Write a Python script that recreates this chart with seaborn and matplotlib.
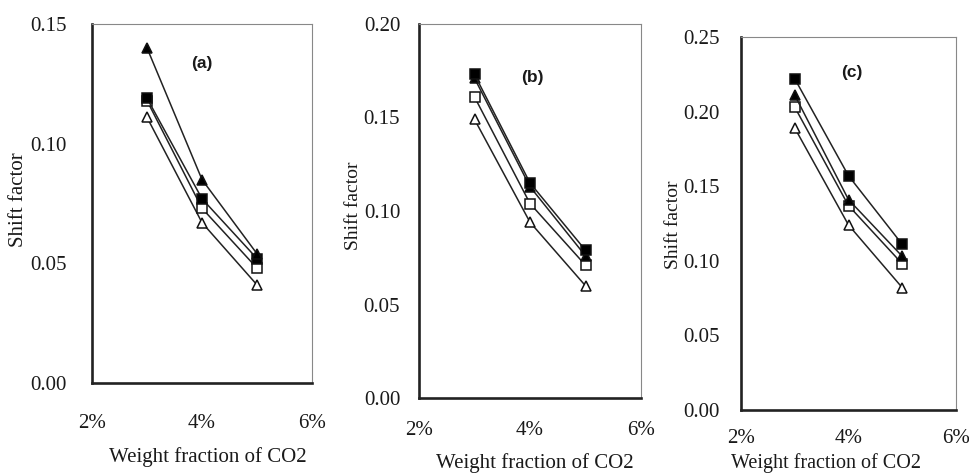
import matplotlib
matplotlib.use("Agg")
import matplotlib.pyplot as plt
import numpy as np
import pandas as pd
import seaborn as sns

# ── Data ──────────────────────────────────────────────────────────────────────
co2_frac = [0.03, 0.04, 0.05]

# panel (a)
a_filled_tri = [0.140, 0.085, 0.054]
a_filled_sq  = [0.119, 0.077, 0.052]
a_open_sq    = [0.118, 0.073, 0.048]
a_open_tri   = [0.111, 0.067, 0.041]

# panel (b)
b_filled_tri = [0.171, 0.113, 0.076]
b_filled_sq  = [0.173, 0.115, 0.079]
b_open_sq    = [0.161, 0.104, 0.071]
b_open_tri   = [0.149, 0.094, 0.060]

# panel (c)
c_filled_tri = [0.211, 0.141, 0.103]
c_filled_sq  = [0.222, 0.157, 0.111]
c_open_sq    = [0.203, 0.137, 0.098]
c_open_tri   = [0.189, 0.124, 0.082]

panel_tags = ["(a)", "(b)", "(c)"]
y_maxes    = [0.15, 0.20, 0.25]
x_ticks    = [0.02, 0.04, 0.06]
x_ticklabels = ["2%", "4%", "6%"]

# ── Style ─────────────────────────────────────────────────────────────────────
sns.set_style("white")
plt.rcParams["font.family"] = ["Liberation Serif", "DejaVu Serif"]

SERIES_STYLE = {
    "open_tri":   dict(marker="^", mfc="white"),
    "open_sq":    dict(marker="s", mfc="white"),
    "filled_tri": dict(marker="^", mfc="black"),
    "filled_sq":  dict(marker="s", mfc="black"),
}

panels = [
    {"open_tri": a_open_tri, "open_sq": a_open_sq, "filled_sq": a_filled_sq, "filled_tri": a_filled_tri},
    {"open_tri": b_open_tri, "open_sq": b_open_sq, "filled_tri": b_filled_tri, "filled_sq": b_filled_sq},
    {"open_tri": c_open_tri, "open_sq": c_open_sq, "filled_tri": c_filled_tri, "filled_sq": c_filled_sq},
]

# layout per panel, in pixels of a 969x474 canvas
W, H = 969, 474
boxes    = [(92, 24, 312, 383), (419, 24, 641, 398), (741, 37, 956, 410)]  # l, t, r, b
ylab_xy  = [(19, 200), (353, 206), (673, 225)]
xlab_xy  = [(208, 457), (535, 463), (826, 463)]
tag_pos  = [(0.50, 0.89), (0.51, 0.858), (0.516, 0.906)]
xpad     = [19, 13, 10]
ypad     = [15, 10, 12]
ylab_fs  = [15, 14, 14]
xlab_fs  = [15, 15, 14.5]

fig = plt.figure(figsize=(W / 100, H / 100), dpi=100)

for i, (series, box) in enumerate(zip(panels, boxes)):
    l, t, r, b = box
    ax = fig.add_axes([l / W, 1 - b / H, (r - l) / W, (b - t) / H])

    for name, vals in series.items():
        st = SERIES_STYLE[name]
        sns.lineplot(
            x=co2_frac, y=vals, ax=ax, color="#222222", linewidth=1.1,
            marker=st["marker"], markersize=6.5, markerfacecolor=st["mfc"],
            markeredgecolor="#111111", markeredgewidth=1.1,
        )

    yt = np.arange(0, y_maxes[i] + 1e-9, 0.05)
    ax.set_xlim(0.02, 0.06)
    ax.set_ylim(0, y_maxes[i])
    ax.set_xticks(x_ticks)
    ax.set_xticklabels(x_ticklabels)
    ax.set_yticks(yt)
    ax.set_yticklabels([f"{v:.2f}" for v in yt])
    ax.tick_params(axis="both", direction="inout", length=7, width=1.2,
                   labelsize=15, color="#222222", labelcolor="#1a1a1a")
    ax.tick_params(axis="x", pad=xpad[i])
    ax.tick_params(axis="y", pad=ypad[i])

    for side in ["left", "bottom"]:
        ax.spines[side].set_linewidth(1.9)
        ax.spines[side].set_color("#222222")
    for side in ["top", "right"]:
        ax.spines[side].set_linewidth(0.8)
        ax.spines[side].set_color("#888888")

    ax.set_xlabel("")
    ax.set_ylabel("")
    fig.text(ylab_xy[i][0] / W, 1 - ylab_xy[i][1] / H, "Shift factor",
             rotation=90, ha="center", va="center", fontsize=ylab_fs[i], color="#1a1a1a")
    fig.text(xlab_xy[i][0] / W, 1 - xlab_xy[i][1] / H, "Weight fraction of CO2",
             ha="center", va="center", fontsize=xlab_fs[i], color="#1a1a1a")

    ax.text(tag_pos[i][0], tag_pos[i][1], panel_tags[i], transform=ax.transAxes,
            ha="center", va="center", fontsize=12.5, fontweight="bold",
            family="Liberation Sans", color="#1a1a1a")

fig.savefig("out.png", dpi=100)
